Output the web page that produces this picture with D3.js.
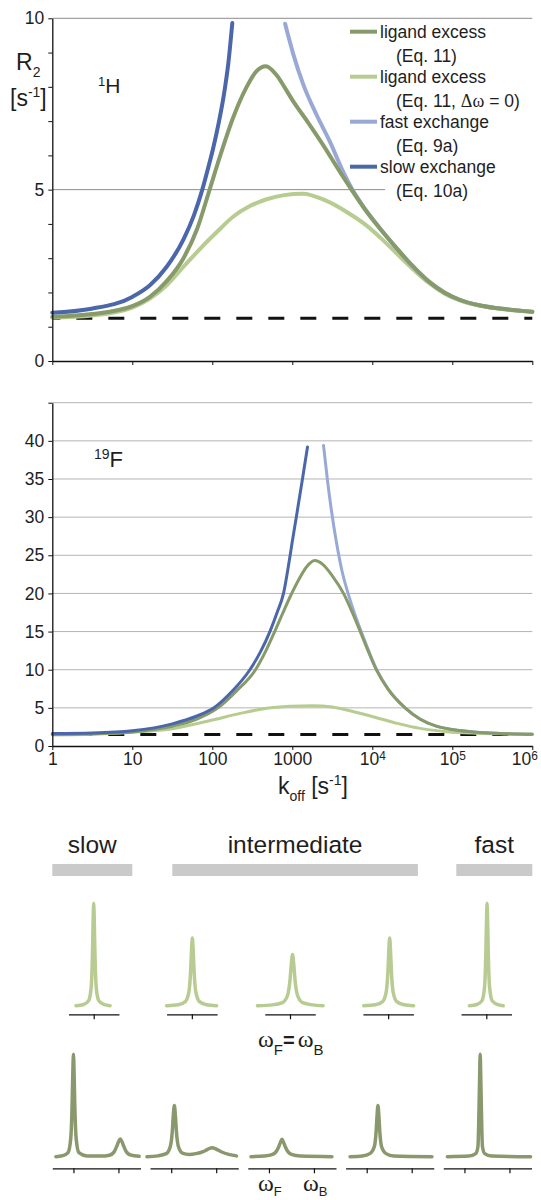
<!DOCTYPE html>
<html>
<head>
<meta charset="utf-8">
<script src="https://cdn.jsdelivr.net/npm/d3@7"></script>
<style>
  body { margin: 0; background: #fff; }
  text { font-family: "Liberation Sans", Arial, sans-serif; fill: #1e1e1e; }
  .serif { font-family: "Liberation Serif", "Times New Roman", serif; }
</style>
</head>
<body>
<div id="chart"></div>
<script>
// ---- data: [log10 koff, R2] ----
// 1H panel
const hLigand = [[0,1.29],[0.5,1.37],[1.0,1.6],[1.22,1.87],[1.43,2.33],[1.64,3.0],[1.81,3.85],[1.96,4.95],
  [2.1,6.0],[2.26,7.1],[2.43,8.0],[2.55,8.45],[2.67,8.6],[2.8,8.35],[2.9,8.0],[3.0,7.62],[3.2,6.95],
  [3.4,6.25],[3.6,5.5],[3.74,5.0],[3.9,4.45],[4.1,3.85],[4.3,3.3],[4.5,2.78],[4.7,2.33],[4.9,2.0],
  [5.1,1.78],[5.35,1.62],[5.68,1.51],[6.0,1.44]];
const hLigandDw0 = [[0,1.27],[0.5,1.33],[1.0,1.56],[1.22,1.82],[1.43,2.21],[1.64,2.75],[1.85,3.28],
  [2.06,3.77],[2.26,4.21],[2.47,4.52],[2.68,4.72],[2.9,4.84],[3.13,4.88],[3.4,4.7],[3.68,4.35],
  [3.93,3.95],[4.1,3.6],[4.3,3.15],[4.5,2.7],[4.7,2.29],[4.9,1.97],[5.1,1.76],[5.35,1.61],[5.68,1.5],[6.0,1.43]];
const hFast = [[2.91,9.84],[3.01,8.97],[3.14,8.05],[3.3,7.2],[3.47,6.4],[3.62,5.6],[3.74,5.05],[3.9,4.47],
  [4.1,3.86],[4.3,3.3],[4.5,2.78],[4.7,2.33],[4.9,2.0],[5.1,1.78],[5.35,1.62],[5.68,1.51],[6.0,1.44]];
const hSlow = [[0,1.41],[0.47,1.52],[1.0,1.87],[1.22,2.21],[1.43,2.75],[1.64,3.55],[1.77,4.25],[1.875,5.0],
  [1.95,5.65],[2.01,6.2],[2.08,6.95],[2.14,7.7],[2.2,8.68],[2.25,9.86]];
const hFree = 1.25;

// 19F panel
const fLigand = [[0,1.5],[0.5,1.6],[1.0,1.85],[1.5,2.6],[1.8,3.5],[2.07,5.0],[2.3,7.2],[2.54,10.0],
  [2.68,12.7],[2.78,15.0],[2.88,17.4],[2.97,19.5],[3.08,21.8],[3.18,23.5],[3.28,24.3],[3.38,23.8],
  [3.5,22.3],[3.64,20.0],[3.75,17.5],[3.85,15.0],[3.95,12.4],[4.05,10.0],[4.2,7.4],[4.41,5.0],
  [4.6,3.5],[4.8,2.6],[5.0,2.15],[5.3,1.8],[5.6,1.65],[6.0,1.55]];
const fLigandDw0 = [[0,1.45],[0.5,1.55],[1.0,1.8],[1.52,2.3],[2.0,3.4],[2.35,4.28],[2.68,4.94],[2.97,5.2],
  [3.26,5.29],[3.5,5.1],[3.68,4.72],[4.01,3.84],[4.31,2.97],[4.6,2.31],[4.93,1.88],[5.3,1.68],[5.6,1.6],[6.0,1.55]];
const fFast = [[3.39,39.4],[3.44,34.8],[3.49,30.8],[3.55,26.8],[3.62,23.0],[3.7,19.9],[3.78,17.3],
  [3.85,15.3],[3.95,12.6],[4.05,10.1],[4.2,7.45],[4.41,5.0],[4.6,3.5],[4.8,2.6],[5.0,2.15],[5.3,1.8],[5.6,1.65],[6.0,1.55]];
const fSlow = [[0,1.65],[0.5,1.72],[1.0,2.0],[1.5,2.9],[1.8,3.9],[2.02,5.0],[2.25,7.2],[2.47,10.0],
  [2.6,12.3],[2.72,15.0],[2.81,17.5],[2.89,20.0],[2.95,23.5],[3.0,26.8],[3.05,30.0],[3.13,35.2],[3.19,39.2]];
const fFree = 1.5;

const koffTicks = [1, 10, 100, 1000, 1e4, 1e5, 1e6];
const legendNames = ["ligand excess", "ligand excess", "fast exchange", "slow exchange"];
const legendEqs = ["(Eq. 11)", "(Eq. 11, Δω = 0)", "(Eq. 9a)", "(Eq. 10a)"];

// exchange regimes, as log10 koff spans
const regimes = ["slow", "intermediate", "fast"];
const regimeSpan = [[0, 1], [1.5, 4.57], [5.05, 6]];

// spectra, ωF = ωB: [frequency offset, intensity]
const specSame = [
  [[-0.70,0],[-0.4,0.012],[-0.2,0.05],[-0.1,0.18],[-0.05,0.5],[-0.025,0.8],[0,1],[0.025,0.8],[0.05,0.5],[0.1,0.18],[0.2,0.05],[0.4,0.012],[0.65,0]],
  [[-1,0],[-0.54,0.01],[-0.26,0.04],[-0.12,0.13],[-0.05,0.33],[-0.015,0.53],[0.02,0.66],[0.055,0.53],[0.09,0.33],[0.16,0.13],[0.3,0.04],[0.58,0.01],[0.98,0]],
  [[-1.29,0],[-0.7,0.008],[-0.3,0.03],[-0.1,0.1],[0,0.25],[0.05,0.4],[0.1,0.5],[0.15,0.4],[0.2,0.25],[0.3,0.1],[0.5,0.03],[0.9,0.008],[1.31,0]],
  [[-0.97,0],[-0.5,0.01],[-0.22,0.04],[-0.08,0.13],[-0.01,0.33],[0.025,0.53],[0.06,0.66],[0.095,0.53],[0.13,0.33],[0.2,0.13],[0.34,0.04],[0.62,0.01],[1.01,0]],
  [[-0.67,0],[-0.37,0.012],[-0.17,0.05],[-0.07,0.18],[-0.02,0.5],[0.005,0.8],[0.03,1],[0.055,0.8],[0.08,0.5],[0.13,0.18],[0.23,0.05],[0.43,0.012],[0.67,0]]
];
// spectra, ωF = 0 and ωB = 1
const specShift = [
  [[-0.39,0],[-0.24,0.01],[-0.12,0.04],[-0.06,0.18],[-0.03,0.5],[-0.015,0.8],[0,1],[0.015,0.8],[0.03,0.5],[0.06,0.18],[0.12,0.04],[0.3,0.008],[0.6,0.006],[0.8,0.015],[0.9,0.045],[0.97,0.11],[1.0,0.145],[1.04,0.173],[1.08,0.145],[1.11,0.11],[1.18,0.045],[1.28,0.015],[1.46,0.004]],
  [[-0.54,0],[-0.3,0.008],[-0.11,0.03],[-0.02,0.1],[0.025,0.25],[0.047,0.4],[0.07,0.5],[0.093,0.4],[0.115,0.25],[0.16,0.1],[0.25,0.035],[0.4,0.022],[0.55,0.03],[0.71,0.05],[0.81,0.072],[0.91,0.088],[1.01,0.072],[1.11,0.048],[1.3,0.02],[1.45,0.008]],
  [[-0.4,0],[-0.1,0.006],[0.08,0.022],[0.15,0.045],[0.22,0.1],[0.255,0.14],[0.29,0.17],[0.325,0.14],[0.36,0.1],[0.43,0.045],[0.5,0.022],[0.7,0.006],[1.4,0]],
  [[-0.37,0],[-0.1,0.007],[0.07,0.03],[0.17,0.1],[0.21,0.25],[0.23,0.4],[0.25,0.5],[0.27,0.4],[0.29,0.25],[0.33,0.1],[0.43,0.03],[0.6,0.007],[1.45,0]],
  [[-0.38,0],[0.1,0.006],[0.25,0.03],[0.3,0.1],[0.325,0.5],[0.338,0.8],[0.35,1],[0.362,0.8],[0.375,0.5],[0.4,0.1],[0.45,0.03],[0.6,0.006],[1.47,0]]
];

// ---- styles ----
const cLigand = "#879a6a", cLigandDw0 = "#b7cc90", cFast = "#98a9d6", cSlow = "#4b67a9";
const legendColors = [cLigand, cLigandDw0, cFast, cSlow];

const svg = d3.select("#chart").append("svg")
    .attr("width", 541)
    .attr("height", 1200);

// scales
const x = d3.scaleLog().domain([1, 1e6]).range([52.3, 532.3]);
const yH = d3.scaleLinear().domain([0, 10]).range([361, 18.3]);
const yF = d3.scaleLinear().domain([0, 45]).range([746, 402.7]);

const lineFor = (y) => d3.line()
    .x(d => x(Math.pow(10, d[0])))
    .y(d => y(d[1]))
    .curve(d3.curveMonotoneX);

function styleAxis(g) {
    g.select(".domain").attr("stroke", "#111").attr("stroke-width", 1.3);
    g.selectAll(".tick line").attr("stroke", "#111");
    g.selectAll(".tick text").attr("font-size", 17.5).attr("font-family", "Liberation Sans, Arial, sans-serif").attr("fill", "#1e1e1e");
}

// ****************** 1H panel ******************
const gH = svg.append("g");

gH.selectAll("line.grid").data([5, 10]).enter().append("line")
    .attr("x1", x(1)).attr("x2", x(1e6))
    .attr("y1", d => yH(d)).attr("y2", d => yH(d))
    .attr("stroke", "#8c8c8c").attr("stroke-width", 1);

// legend background hides part of the grid
gH.append("rect").attr("x", 385).attr("y", 22).attr("width", 150).attr("height", 184).attr("fill", "#fff");

gH.append("line")
    .attr("x1", x(1)).attr("x2", x(1e6))
    .attr("y1", yH(hFree)).attr("y2", yH(hFree))
    .attr("stroke", "#111").attr("stroke-width", 3)
    .attr("stroke-dasharray", "16,16").attr("stroke-dashoffset", 8);

[[hLigandDw0, cLigandDw0], [hFast, cFast], [hLigand, cLigand], [hSlow, cSlow]].forEach(([data, col]) => {
    gH.append("path").datum(data)
        .attr("d", lineFor(yH))
        .attr("fill", "none").attr("stroke", col)
        .attr("stroke-width", 4).attr("stroke-linecap", "round");
});

gH.append("g").attr("transform", `translate(0,${yH(0)})`)
    .call(d3.axisBottom(x).tickValues(koffTicks).tickFormat("").tickSize(4).tickSizeOuter(0))
    .call(styleAxis);
gH.append("g").attr("transform", `translate(${x(1)},0)`)
    .call(d3.axisLeft(yH).tickValues(d3.range(0, 11)).tickSize(4).tickPadding(4).tickSizeOuter(0)
        .tickFormat(d => d % 5 ? "" : d))
    .call(styleAxis);

// axis title
const rl = gH.append("text").attr("x", 16).attr("y", 70).attr("font-size", 23);
rl.append("tspan").text("R");
rl.append("tspan").attr("dy", 7).attr("font-size", 14).text("2");
const ul = gH.append("text").attr("x", 10).attr("y", 106).attr("font-size", 23);
ul.append("tspan").text("[s");
ul.append("tspan").attr("dy", -9).attr("font-size", 14).text("-1");
ul.append("tspan").attr("dy", 9).text("]");

const hl = gH.append("text").attr("x", 98).attr("y", 93).attr("font-size", 21);
hl.append("tspan").attr("dy", -7).attr("font-size", 13).text("1");
hl.append("tspan").attr("dy", 7).text("H");

// legend
const leg = gH.append("g");
legendNames.forEach((name, i) => {
    const yy = 31.7 + i * 45;
    leg.append("line").attr("x1", 350).attr("x2", 377).attr("y1", yy).attr("y2", yy)
        .attr("stroke", legendColors[i]).attr("stroke-width", 4);
    leg.append("text").attr("x", 380).attr("y", yy + 6).attr("font-size", 17.5).text(name);
    const eq = leg.append("text").attr("x", 396).attr("y", yy + 30).attr("font-size", 17.5);
    if (legendEqs[i].includes("Δω")) {
        const parts = legendEqs[i].split("Δω");
        eq.append("tspan").text(parts[0]);
        eq.append("tspan").attr("class", "serif").attr("font-size", 18).text("Δω");
        eq.append("tspan").text(parts[1]);
    } else {
        eq.text(legendEqs[i]);
    }
});

// ****************** 19F panel ******************
const gF = svg.append("g");

gF.selectAll("line.grid").data(d3.range(5, 50, 5)).enter().append("line")
    .attr("x1", x(1)).attr("x2", x(1e6))
    .attr("y1", d => yF(d)).attr("y2", d => yF(d))
    .attr("stroke", "#b4b4b4").attr("stroke-width", 1);

gF.append("line")
    .attr("x1", x(1)).attr("x2", x(1e6))
    .attr("y1", yF(fFree)).attr("y2", yF(fFree))
    .attr("stroke", "#111").attr("stroke-width", 3)
    .attr("stroke-dasharray", "16,16").attr("stroke-dashoffset", 8);

[[fLigandDw0, cLigandDw0], [fFast, cFast], [fLigand, cLigand], [fSlow, cSlow]].forEach(([data, col]) => {
    gF.append("path").datum(data)
        .attr("d", lineFor(yF))
        .attr("fill", "none").attr("stroke", col)
        .attr("stroke-width", 3).attr("stroke-linecap", "round");
});

const xAx = gF.append("g").attr("transform", `translate(0,${yF(0)})`)
    .call(d3.axisBottom(x).tickValues(koffTicks).tickSize(4).tickPadding(3).tickSizeOuter(0)
        .tickFormat(d => d < 1e4 ? d : ""))
    .call(styleAxis);
xAx.selectAll(".tick text").each(function(d) {
    if (d >= 1e4) {
        const t = d3.select(this);
        t.text("10");
        t.append("tspan").attr("dy", "-0.45em").attr("font-size", "0.68em").text(Math.round(Math.log10(d)));
        // last label is pulled inside the frame
        if (d === 1e6) t.attr("text-anchor", "end").attr("x", 5);
    }
});
gF.append("g").attr("transform", `translate(${x(1)},0)`)
    .call(d3.axisLeft(yF).tickValues(d3.range(0, 50, 5)).tickSize(4).tickPadding(4).tickSizeOuter(0)
        .tickFormat(d => d < 45 ? d : ""))
    .call(styleAxis);

const kl = gF.append("text").attr("x", 278).attr("y", 794).attr("font-size", 23);
kl.append("tspan").text("k");
kl.append("tspan").attr("dy", 7).attr("font-size", 14).text("off");
kl.append("tspan").attr("dy", -7).text(" [s");
kl.append("tspan").attr("dy", -9).attr("font-size", 14).text("-1");
kl.append("tspan").attr("dy", 9).text("]");

const fl = gF.append("text").attr("x", 94).attr("y", 467).attr("font-size", 22);
fl.append("tspan").attr("dy", -8).attr("font-size", 14).text("19");
fl.append("tspan").attr("dy", 8).text("F");

// ****************** exchange regimes and spectra ******************
const reg = svg.append("g");
regimes.forEach((r, i) => {
    const [a, b] = regimeSpan[i];
    reg.append("rect")
        .attr("x", x(Math.pow(10, a))).attr("width", x(Math.pow(10, b)) - x(Math.pow(10, a)))
        .attr("y", 864).attr("height", 12).attr("fill", "#c9cac9");
    reg.append("text")
        .attr("x", (x(Math.pow(10, a)) + x(Math.pow(10, b))) / 2).attr("y", 853)
        .attr("text-anchor", "middle").attr("font-size", 24.5).text(r);
});

const specLine = (sx, sy) => d3.line().x(d => sx(d[0])).y(d => sy(d[1])).curve(d3.curveMonotoneX);

// top row, ωF = ωB
const ySame = d3.scaleLinear().domain([0, 1]).range([1005.7, 903.3]);
specSame.forEach((spec, i) => {
    const cx = 93.7 + i * 98.15;
    const sx = d3.scaleLinear().domain([-1, 1]).range([cx - 25.25, cx + 25.25]);
    reg.append("path").datum(spec).attr("d", specLine(sx, ySame))
        .attr("fill", "none").attr("stroke", "#b8cb92").attr("stroke-width", 3.5)
        .attr("stroke-linecap", "round").attr("stroke-linejoin", "round");
    reg.append("g").attr("transform", "translate(0,1014.3)")
        .call(d3.axisBottom(sx).tickValues([0]).tickFormat("").tickSize(5).tickSizeOuter(0))
        .call(g => g.selectAll("path,line").attr("stroke", "#111").attr("stroke-width", 1.2));
    if (i === 2) {
        const t = reg.append("text").attr("x", cx - 32).attr("y", 1047).attr("font-size", 24);
        t.append("tspan").attr("class", "serif").text("ω");
        t.append("tspan").attr("dy", 8).attr("font-size", 15).text("F");
        t.append("tspan").attr("dy", -8).attr("font-size", 20).attr("font-weight", "bold").text("=");
        t.append("tspan").attr("class", "serif").attr("dx", 3).text("ω");
        t.append("tspan").attr("dy", 8).attr("font-size", 15).text("B");
    }
});

// bottom row, ωF = 0, ωB = 1
const yShift = d3.scaleLinear().domain([0, 1]).range([1156.7, 1054.3]);
specShift.forEach((spec, i) => {
    const left = 52.3 + i * 97.75;
    const sx = d3.scaleLinear().domain([-0.47, 1.49]).range([left, left + 88.2]);
    reg.append("path").datum(spec).attr("d", specLine(sx, yShift))
        .attr("fill", "none").attr("stroke", "#8a986d").attr("stroke-width", 3.5)
        .attr("stroke-linecap", "round").attr("stroke-linejoin", "round");
    reg.append("g").attr("transform", "translate(0,1168.3)")
        .call(d3.axisBottom(sx).tickValues([0, 1]).tickFormat("").tickSize(5).tickSizeOuter(0))
        .call(g => g.selectAll("path,line").attr("stroke", "#111").attr("stroke-width", 1.2));
    if (i === 2) {
        ["F", "B"].forEach((s, k) => {
            const t = reg.append("text").attr("x", sx(k) - 11).attr("y", 1191).attr("font-size", 24);
            t.append("tspan").attr("class", "serif").text("ω");
            t.append("tspan").attr("dy", 5).attr("font-size", 13).text(s);
        });
    }
});
</script>
</body>
</html>
